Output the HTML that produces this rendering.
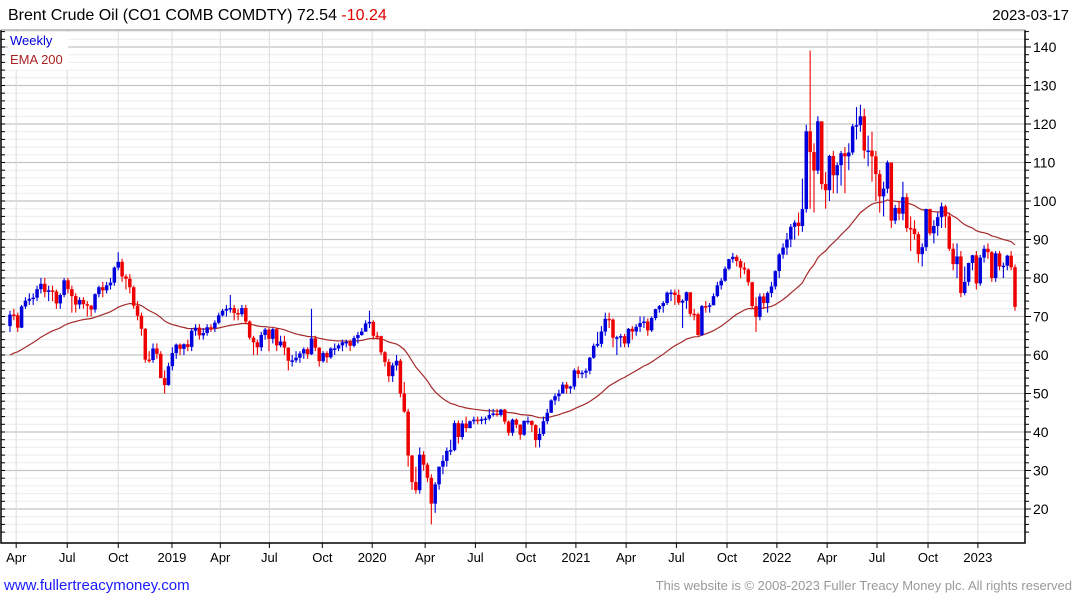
<!DOCTYPE html>
<html><head><meta charset="utf-8">
<style>
html,body{margin:0;padding:0;background:#fff;width:1075px;height:600px;overflow:hidden}
svg{display:block}
text{font-family:"Liberation Sans","DejaVu Sans",sans-serif}
</style></head>
<body>
<svg id="chart" width="1075" height="600" viewBox="0 0 1075 600" xmlns="http://www.w3.org/2000/svg">
<g id="grid"></g>
<g id="ema"></g>
<g id="candles"></g>
<g id="axes"></g>
<text x="8" y="20" font-size="16" fill="#000">Brent Crude Oil  (CO1 COMB COMDTY) 72.54 <tspan fill="#e00000">-10.24</tspan></text>
<text x="1069" y="20" font-size="15" fill="#000" text-anchor="end">2023-03-17</text>
<rect x="8" y="32" width="60" height="38" fill="#fff"/>
<text x="10" y="45" font-size="13" fill="#0000dd">Weekly</text>
<text x="10" y="64" font-size="13" fill="#aa2222">EMA 200</text>
<text x="4" y="590" font-size="15" fill="#1a1aff">www.fullertreacymoney.com</text>
<text x="1072" y="590" font-size="13" fill="#999" text-anchor="end">This website is © 2008-2023 Fuller Treacy Money plc. All rights reserved</text>
</svg>
<script>
const closes=[70.5,70.3,67.1,72.6,74.1,74.6,74.9,77.1,78.5,76.4,76.8,76.5,73.4,75.6,79.4,77.1,75.3,73.1,74.3,73.2,72.8,71.8,75.8,77.6,76.8,78.1,78.8,82.7,84.2,80.4,79.8,77.6,72.8,70.2,66.8,58.8,58.7,61.7,60.3,54.0,52.2,
57.1,60.5,62.7,61.6,62.8,62.1,66.3,67.1,65.1,65.7,67.2,67.0,68.4,70.3,71.5,72.0,72.2,70.9,70.6,72.2,68.7,64.5,63.3,62.0,65.2,66.6,64.2,66.7,62.5,63.5,61.9,58.5,58.6,59.3,60.4,61.5,60.2,64.3,61.9,58.4,60.5,59.4,61.7,61.7,62.5,63.3,63.4,62.4,64.4,65.2,66.1,68.2,
68.6,65.0,64.9,60.7,58.2,54.5,57.3,58.5,50.0,45.3,33.9,27.0,24.9,34.1,31.5,28.1,21.4,26.4,31.0,32.5,35.1,35.3,42.3,38.7,42.2,41.0,42.8,43.2,43.1,43.3,43.5,44.4,44.8,44.4,45.8,42.7,39.8,43.2,41.9,39.3,42.9,42.9,41.8,37.9,39.5,42.8,45.0,48.2,49.3,50.0,52.3,51.3,
51.8,56.0,55.1,55.4,55.9,59.3,62.4,62.9,66.1,69.4,69.2,64.5,64.6,64.9,63.0,66.8,66.1,67.3,68.3,68.7,66.4,69.6,71.9,72.7,73.5,76.2,76.2,75.6,73.6,74.1,76.3,70.7,70.6,65.2,72.7,72.6,72.9,75.3,78.1,79.3,82.4,84.9,85.5,84.4,82.7,82.2,78.9,72.7,69.9,75.2,73.5,76.1,77.8,
81.8,86.1,87.9,90.0,93.3,94.4,93.5,97.9,118.1,112.7,107.9,120.7,104.4,102.8,111.7,106.7,109.3,112.4,111.6,112.6,119.4,119.7,122.0,113.1,113.1,111.6,107.0,101.2,103.2,110.0,94.9,98.2,96.7,101.0,93.0,92.8,91.4,86.2,88.0,97.9,91.6,93.5,95.8,98.6,96.0,87.6,83.6,85.6,76.1,79.0,83.9,85.9,
78.6,85.3,87.6,86.7,80.0,86.4,83.0,83.2,85.8,82.8,72.5];
const opens=[67.5,70.5,70.3,67.1,72.6,74.1,74.6,74.9,77.1,78.5,76.4,76.8,76.5,73.4,75.6,79.4,77.1,75.3,73.1,74.3,73.2,72.8,71.8,75.8,77.6,76.8,78.1,78.8,82.7,84.2,80.4,79.8,77.6,72.8,70.2,66.8,58.8,58.7,61.7,60.3,54.0,
52.2,57.1,60.5,62.7,61.6,62.8,62.1,66.3,67.1,65.1,65.7,67.2,67.0,68.4,70.3,71.5,72.0,72.2,70.9,70.6,72.2,68.7,64.5,63.3,62.0,65.2,66.6,64.2,66.7,62.5,63.5,61.9,58.5,58.6,59.3,60.4,61.5,60.2,64.3,61.9,58.4,60.5,59.4,61.7,61.7,62.5,63.3,63.4,62.4,64.4,65.2,66.1,
68.2,68.6,65.0,64.9,60.7,58.2,54.5,57.3,58.5,50.0,45.3,33.9,27.0,24.9,34.1,31.5,28.1,21.4,26.4,31.0,32.5,35.1,35.3,42.3,38.7,42.2,41.0,42.8,43.2,43.1,43.3,43.5,44.4,44.8,44.4,45.8,42.7,39.8,43.2,41.9,39.3,42.9,42.9,41.8,37.9,39.5,42.8,45.0,48.2,49.3,50.0,52.3,
51.3,51.8,56.0,55.1,55.4,55.9,59.3,62.4,62.9,66.1,69.4,69.2,64.5,64.6,64.9,63.0,66.8,66.1,67.3,68.3,68.7,66.4,69.6,71.9,72.7,73.5,76.2,76.2,75.6,73.6,74.1,76.3,70.7,70.6,65.2,72.7,72.6,72.9,75.3,78.1,79.3,82.4,84.9,85.5,84.4,82.7,82.2,78.9,72.7,69.9,75.2,73.5,76.1,
77.8,81.8,86.1,87.9,90.0,93.3,94.4,93.5,97.9,118.1,112.7,107.9,120.7,104.4,102.8,111.7,106.7,109.3,112.4,111.6,112.6,119.4,119.7,122.0,113.1,113.1,111.6,107.0,101.2,103.2,110.0,94.9,98.2,96.7,101.0,93.0,92.8,91.4,86.2,88.0,97.9,91.6,93.5,95.8,98.6,96.0,87.6,83.6,85.6,76.1,79.0,83.9,
85.9,78.6,85.3,87.6,86.7,80.0,86.4,83.0,83.2,85.8,82.8];
const highs=[71.5,72,71,73,75,76,76,78,80,80,78,78,77,76,80,80,78,76,75,75,74,73,76,78,79,79,80,83,86.7,85,81,81,78,74,71,67,61,63,63,61,56,
58,62,63,63,63,64,67,68,68,67,68,68,69,71,72,73,75.6,73,72,73,73,69,65,64,66,67,67,67,67,65,65,62,60,61,61,62,62,72,65,62,61,61,62,63,63,64,64,64,65,66,67,69,
71.5,69,66,65,61,59,58,60,59,53,46,34,31,36,35,32,29,27,31,34,36,38,43,43,43,44,43,44,44,44,44,46,46,46,46,46,43,43.5,43.5,42,43,44,43,42,41,44,46,48.5,50,51,53,53,
52,56.5,57,56,56.5,59.5,63,66,67.5,71,71,69.5,65,65.5,65.5,67,67.5,68,70,70,69.5,70,72,73,74,76.5,77,77,77,74.5,76.5,76,72,71,73,74,73.5,76,79,80,83,85,86.5,86,85,84,82.5,79,75,76,76,76.5,79,
82,86.5,89,91.7,94,95,97,105.8,119.8,139.1,115,122,120.5,107.5,112,113,110,113,114,115,120,124.4,125,124,117,118,113,108,105,110.5,110,99,100,105,102,96,95,92,89,98,98,95,97,99.6,99,97,89,89,87,83,84,86,
87,86,88.5,89,87,87,87,84,86,87,83.5];
const lows=[66,69,66,67,72,73,73,74,76,75,74,74,72,72,75,76,71,71,72,72,70,70,71,75,75,76,77,78,82,79,77,76,72,69,65,58,58,58,59,54,50,
52,56,59,60,60,61,61,65,64,64,65,66,66,68,70,70,71,69,69,70,68,64,60,60,61,64,61,63,61,62,60,56,57,58,58,59,59,60,61,57,58,58,59,60,61,61,62,61,62,63,65,66,
67,64,64,60,57,53,53,56,49,45,31,25,24,24,30,27,16,19,25,29,31,34,35,37,38,40,41,42,42,42,42,43,44,44,44,42,39,39,41,38,39,42,40,36,36,39,42,45,47,48,50,50,
50,51,54,54,54,55,59,62,62,65,67,62,60,62,62,62,64,65,66,67,65,66,69,71,71,73,74,73,73,67,72,70,69,65,65,71,71,73,75,77,79,82,84,83,80,81,78,72,66,69,72,71,75,
77,80,85,86,88,90,91,92,97,98,97,107,103,98,100,102,102,104,102,108,112,116,118,111,109,105,100,97,96,102,93,94,95,95,92,87,90,84,83,87,91,89,91,93,93,87,82,80,75,75.5,78,82,
77,78,84,85,79,79,82,80,82,82,71.5];
const emaSeed=60;
const yTicks=[20,30,40,50,60,70,80,90,100,110,120,130,140];
const xTickLabels=["Apr","Jul","Oct","2019","Apr","Jul","Oct","2020","Apr","Jul","Oct","2021","Apr","Jul","Oct","2022","Apr","Jul","Oct","2023"];
const xTickWeeks=[1.6,14.8,28,41.9,54.4,67.1,80.8,93.7,107.4,120.4,133.5,146.4,159.4,172.4,185.5,198.4,211.4,224.3,237.5,250.4];

const NS="http://www.w3.org/2000/svg";
const L=1,R=1025,T=30,B=543;
const x0=10,step=(1015-10)/(closes.length-1);
const X=i=>x0+i*step;
const Y=v=>509-(v-20)*3.85;
function mk(tag,attrs,parent){const e=document.createElementNS(NS,tag);for(const k in attrs)e.setAttribute(k,attrs[k]);parent.appendChild(e);return e;}
const grid=document.getElementById('grid'),axes=document.getElementById('axes'),cg=document.getElementById('candles'),eg=document.getElementById('ema');

for(let v=14;v<=144;v+=2){const y=Y(v);if(y<T||y>B)continue;
 const major=v%10===0;
 const ln=mk('line',{x1:L,x2:R,y1:y,y2:y,stroke:major?'#c4c4c4':'#ececec','stroke-width':major?1.2:1},grid);
 
 
 const tk=mk('line',{x1:R,x2:R+(major?6:4),y1:y,y2:y,stroke:'#000'},axes);
 
 
 const lt=mk('line',{x1:L,x2:L+4,y1:y,y2:y,stroke:'#000'},axes);
 
 
}
xTickWeeks.forEach((w,k)=>{const x=X(w);
 const ln=mk('line',{x1:x,x2:x,y1:T,y2:B,stroke:'#dcdcdc'},grid);
 
 
 const tk=mk('line',{x1:x,x2:x,y1:B,y2:B+5,stroke:'#000'},axes);
 
 
 const t=mk('text',{x:x,y:562,'font-size':13,'text-anchor':'middle',fill:'#000'},axes);
 t.textContent=xTickLabels[k];
 
 
});
yTicks.forEach(v=>{const t=mk('text',{x:1033,y:Y(v)+5,'font-size':14,fill:'#000'},axes);
 t.textContent=v;
 
 
});
const fr=mk('path',{d:`M${L} ${T}V${B}H${R}V${T}`,fill:'none',stroke:'#000','stroke-width':1.5},axes);


mk('line',{x1:L,x2:R,y1:T,y2:T,stroke:'#888','stroke-width':1},axes);

let e=emaSeed,pts=[];const a=2/41;
closes.forEach((c,i)=>{ if(i>0) e=e+a*(c-e); pts.push(X(i).toFixed(1)+','+Y(e).toFixed(1));});
const pl=mk('polyline',{points:pts.join(' '),fill:'none',stroke:'#a52a2a','stroke-width':1.2},eg);



closes.forEach((c,i)=>{const o=opens[i],x=X(i);const col=c>=o?'#0000dd':'#ee0000';
 const g=mk('g',{},cg);
 
 
 mk('line',{x1:x,x2:x,y1:Y(highs[i]),y2:Y(lows[i]),stroke:col,'stroke-width':1.1},g);
 const top=Y(Math.max(o,c)),bot=Y(Math.min(o,c));
 mk('rect',{x:x-1.75,y:top,width:3.5,height:Math.max(1.5,bot-top),fill:col},g);
});
</script>
</body></html>
